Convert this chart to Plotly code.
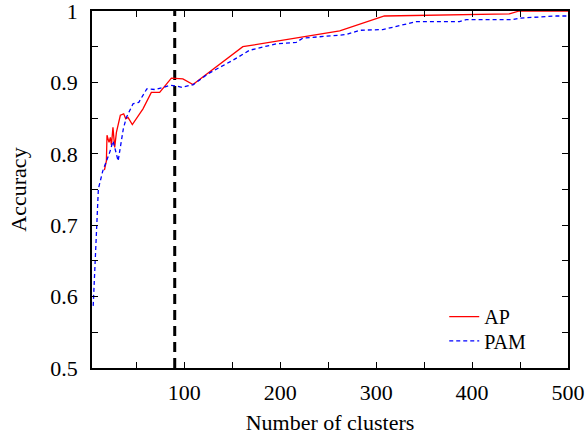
import plotly.graph_objects as go

ap_x = [16.7, 18.75, 19.4, 21.5, 22.9, 24, 25.6, 27.4, 29.2, 30.8, 33.3, 36.8, 38.9, 41.3,
        45.8, 56.9, 65.6, 74.3, 86.5, 98.5, 109, 161, 262, 308.6, 438.9, 449.3, 500]
ap_y = [0.777, 0.790, 0.826, 0.816, 0.823, 0.812, 0.837, 0.809, 0.830, 0.840, 0.854, 0.856, 0.849, 0.851,
        0.841, 0.863, 0.886, 0.886, 0.906, 0.905, 0.897, 0.950, 0.972, 0.993, 0.996, 1.0, 1.0]

pam_x = [5, 6.25, 7.9, 9, 10.4, 15, 22.2, 25.7, 31, 36.4, 39.6, 46.5, 52.5, 60.9, 69.4, 77.9,
         85, 92, 97.5, 109.5, 124.6, 136.8, 150.6, 168, 178.4, 195.8, 216.7, 223.5, 268.8,
         282.6, 306.9, 341.7, 386.8, 393.8, 442.3, 449.3, 487.5, 500]
pam_y = [0.587, 0.625, 0.672, 0.72, 0.751, 0.776, 0.802, 0.818, 0.790, 0.835, 0.851, 0.870, 0.872,
         0.891, 0.890, 0.893, 0.896, 0.895, 0.893, 0.897, 0.912, 0.921, 0.931, 0.945, 0.948, 0.954,
         0.956, 0.962, 0.967, 0.973, 0.974, 0.985, 0.985, 0.988, 0.988, 0.990, 0.993, 0.993]

vline_x = 90

x_tickvals = [50, 100, 150, 200, 250, 300, 350, 400, 450, 500]
x_ticktext = ["", "100", "", "200", "", "300", "", "400", "", "500"]
y_tickvals = [0.5, 0.55, 0.6, 0.65, 0.7, 0.75, 0.8, 0.85, 0.9, 0.95, 1.0]
y_ticktext = ["0.5", "", "0.6", "", "0.7", "", "0.8", "", "0.9", "", "1"]

FONT = "Liberation Serif"
FS = 22

fig = go.Figure()
fig.add_trace(go.Scatter(x=[vline_x, vline_x], y=[0.5, 1.0], mode="lines",
                         line=dict(color="black", width=3, dash="10px,6px"),
                         showlegend=False, hoverinfo="skip"))
fig.add_trace(go.Scatter(x=ap_x, y=ap_y, mode="lines", name="AP", legend="legend",
                         line=dict(color="#ff0000", width=1.3)))
fig.add_trace(go.Scatter(x=pam_x, y=pam_y, mode="lines", name="PAM", legend="legend2",
                         line=dict(color="#0000ff", width=1.3, dash="4px,3px")))

axis_common = dict(showline=True, linecolor="black", linewidth=1.5, mirror="allticks",
                   ticks="inside", ticklen=6, tickcolor="black", tickwidth=1,
                   showgrid=False, zeroline=False, automargin=False,
                   ticklabeloverflow="allow",
                   tickfont=dict(family=FONT, size=FS, color="black"))

legend_common = dict(xanchor="left", yanchor="middle", bgcolor="rgba(0,0,0,0)",
                     font=dict(family=FONT, size=20, color="black"))

fig.update_layout(
    width=585, height=435,
    margin=dict(l=92, r=17, t=11, b=67),
    paper_bgcolor="white", plot_bgcolor="white",
    font=dict(family=FONT, size=FS, color="black"),
    xaxis=dict(range=[3.75, 500], tickmode="array", tickvals=x_tickvals, ticktext=x_ticktext,
               ticklabelstandoff=4,
               title=dict(text="Number of clusters", font=dict(family=FONT, size=FS), standoff=19),
               **axis_common),
    yaxis=dict(range=[0.5, 1.0], tickmode="array", tickvals=y_tickvals, ticktext=y_ticktext,
               ticklabelstandoff=8,
               title=dict(text="Accuracy", font=dict(family=FONT, size=FS), standoff=18),
               **axis_common),
    legend=dict(x=0.74, y=0.144, **legend_common),
    legend2=dict(x=0.74, y=0.076, **legend_common),
    showlegend=True,
)

fig.write_html("out.html", config={"displayModeBar": False},
               post_script="document.body.style.margin='0';document.body.style.overflow='hidden';")
